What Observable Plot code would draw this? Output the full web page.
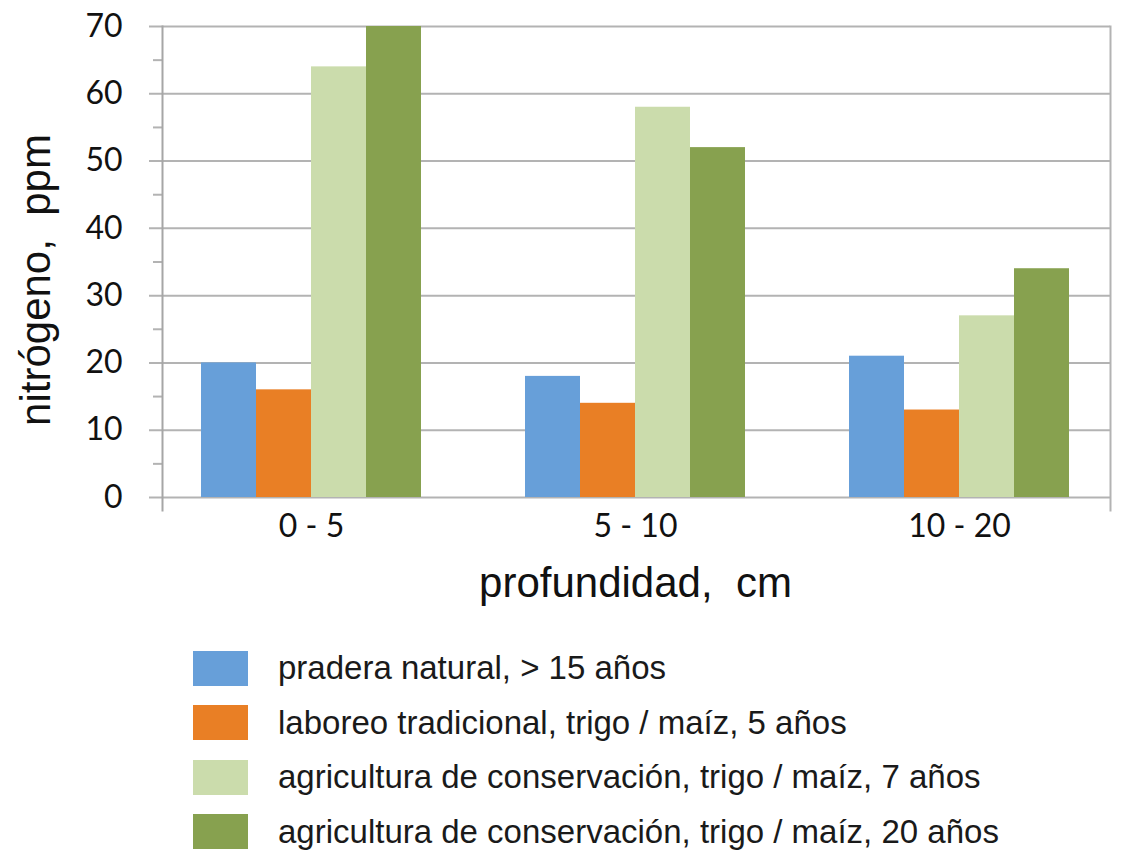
<!DOCTYPE html>
<html><head><meta charset="utf-8">
<script src="https://cdn.jsdelivr.net/npm/d3@7"></script>
<script src="https://cdn.jsdelivr.net/npm/@observablehq/plot@0.6"></script>
<style>
body{margin:0;background:#fff;}
#legend{padding-top:26px;margin-left:193px;font-family:"Liberation Sans",Arial,sans-serif;font-size:33px;color:#1a1a1a;}
.row{display:flex;align-items:center;height:54.5px;}
.sw{width:55px;height:35px;margin-right:30px;flex:none;}
</style></head><body>
<div id="chart"></div><div id="legend"></div>
<script>
const depths = ["0 - 5", "5 - 10", "10 - 20"];
const series = [
  "pradera natural, > 15 años",
  "laboreo tradicional, trigo / maíz, 5 años",
  "agricultura de conservación, trigo / maíz, 7 años",
  "agricultura de conservación, trigo / maíz, 20 años"
];
const colors = ["#679fd9", "#e97f25", "#cbdcac", "#87a14f"];
const pradera = [20, 18, 21];
const laboreo = [16, 14, 13];
const conserv7 = [64, 58, 27];
const conserv20 = [70, 52, 34];
const majorTicks = [0, 10, 20, 30, 40, 50, 60, 70];
const minorTicks = [5, 15, 25, 35, 45, 55, 65];
const yLabel = "nitrógeno,  ppm";
const xLabel = "profundidad,  cm";

const values = [pradera, laboreo, conserv7, conserv20];
const rows = [];
depths.forEach((d, i) => series.forEach((s, j) => rows.push({depth: d, series: s, value: values[j][i]})));
const grid = [];
depths.forEach(d => majorTicks.forEach(v => grid.push({depth: d, v})));
const lastDepth = depths[depths.length - 1];
const gridMain = grid.filter(g => g.depth !== lastDepth);
const gridLast = grid.filter(g => g.depth === lastDepth);
const gridColor = "#b3b3b3";
const titleFont = "Liberation Sans, Arial, sans-serif";

const chart = Plot.plot({
  width: 1121, height: 615,
  marginTop: 26, marginBottom: 118, marginLeft: 148, marginRight: 0,
  style: {fontFamily: "Lato, sans-serif", color: "#111", background: "white"},
  fx: {domain: depths, padding: 0, label: null},
  x: {domain: series, paddingInner: 0, paddingOuter: 0.935, axis: null},
  y: {domain: [0, 70]},
  color: {domain: series, range: colors},
  marks: [
    Plot.ruleY(gridMain, {fx: "depth", y: "v", stroke: gridColor, strokeWidth: 2}),
    Plot.ruleY(gridLast, {fx: "depth", y: "v", stroke: gridColor, strokeWidth: 2, insetRight: 11}),
    Plot.barY(rows, {fx: "depth", x: "series", y: "value", fill: "series"}),
    Plot.axisY(minorTicks, {tickSize: 9, dx: 13, stroke: gridColor, strokeWidth: 2, tickFormat: () => "", label: null}),
    Plot.axisY(majorTicks, {tickSize: 0, tickPadding: 27, fontSize: 32, label: null}),
    Plot.axisFx({anchor: "bottom", tickSize: 0, tickPadding: 17, fontSize: 32, label: null}),
    Plot.frame({anchor: "left", insetLeft: 13, insetBottom: -13, stroke: "#a6a6a6", strokeWidth: 2, facetAnchor: "left"}),
    Plot.frame({anchor: "right", insetRight: 11, insetBottom: -13, stroke: gridColor, strokeWidth: 2, facetAnchor: "right"}),
    Plot.text([yLabel], {frameAnchor: "left", textAnchor: "middle", lineAnchor: "middle", rotate: -90, dx: -113, dy: 18, fontSize: 42, fontFamily: titleFont, facetAnchor: "left"}),
    Plot.text([{depth: depths[1], t: xLabel}], {fx: "depth", text: "t", frameAnchor: "bottom", textAnchor: "middle", lineAnchor: "middle", dy: 86, fontSize: 42, fontFamily: titleFont})
  ]
});
document.getElementById("chart").appendChild(chart);

const legend = document.getElementById("legend");
series.forEach((s, j) => {
  const row = document.createElement("div");
  row.className = "row";
  const sw = document.createElement("div");
  sw.className = "sw";
  sw.style.background = colors[j];
  const t = document.createElement("span");
  t.textContent = s;
  row.appendChild(sw); row.appendChild(t);
  legend.appendChild(row);
});
</script>
</body></html>
